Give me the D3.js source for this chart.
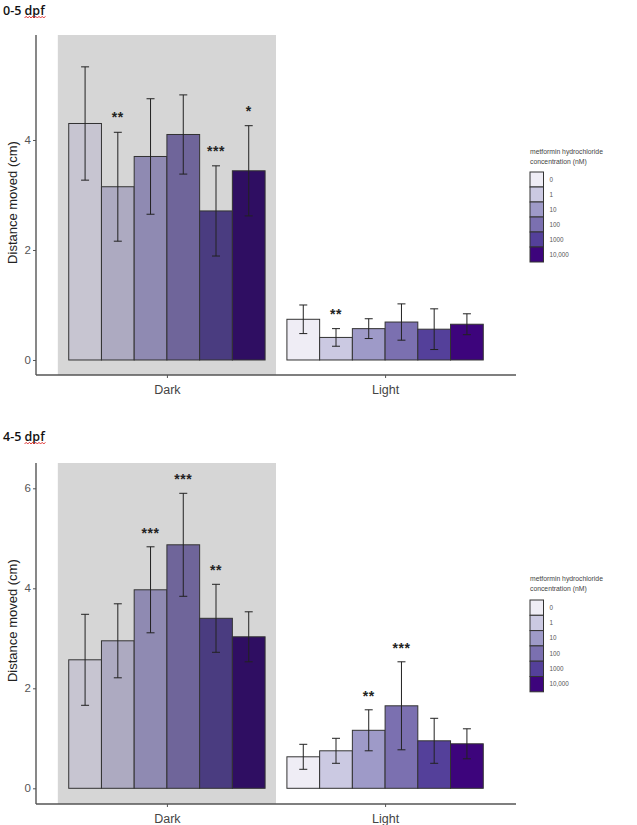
<!DOCTYPE html>
<html>
<head>
<meta charset="utf-8">
<script src="https://cdn.jsdelivr.net/npm/d3@7"></script>
<style>
  html, body { margin: 0; padding: 0; background: #fff; }
  svg { display: block; font-family: "Liberation Sans", Arial, sans-serif; }
</style>
</head>
<body>
<svg id="chart" width="637" height="825"></svg>
<script>
// ---------- data ----------
const conditions = ["Dark", "Light"];
const concentrations = ["0", "1", "10", "100", "1000", "10,000"];
const legendTitle = ["metformin hydrochloride", "concentration (nM)"];

// Panel 1: 0-5 dpf
const p1Title = "0-5 dpf";
const p1DarkMean  = [4.30, 3.15, 3.70, 4.10, 2.71, 3.44];
const p1DarkErr   = [1.03, 0.99, 1.05, 0.72, 0.82, 0.82];
const p1LightMean = [0.74, 0.41, 0.57, 0.69, 0.56, 0.65];
const p1LightErr  = [0.26, 0.16, 0.18, 0.33, 0.37, 0.19];
const p1DarkSig   = ["", "**", "", "", "***", "*"];
const p1LightSig  = ["", "**", "", "", "", ""];
const p1Ticks     = [0, 2, 4];

// Panel 2: 4-5 dpf
const p2Title = "4-5 dpf";
const p2DarkMean  = [2.57, 2.95, 3.97, 4.87, 3.40, 3.03];
const p2DarkErr   = [0.91, 0.74, 0.86, 1.03, 0.68, 0.50];
const p2LightMean = [0.63, 0.75, 1.16, 1.65, 0.95, 0.89];
const p2LightErr  = [0.25, 0.25, 0.41, 0.88, 0.45, 0.30];
const p2DarkSig   = ["", "", "***", "***", "**", ""];
const p2LightSig  = ["", "", "**", "***", "", ""];
const p2Ticks     = [0, 2, 4, 6];

// palettes (light background vs. shaded "Dark" region)
const lightPalette = ["#efedf5", "#cbc9e2", "#9e9ac8", "#7b70b0", "#54409a", "#3d047c"];
const darkPalette  = ["#c7c5d1", "#adaac1", "#8f8ab2", "#6f659a", "#4a3c80", "#2f0e62"];

// ---------- drawing ----------
const svg = d3.select("#chart");

function drawPanel(cfg) {
  const g = svg.append("g");
  const left = 36, right = 516;
  const x = d3.scaleLinear().domain([0.4, 2.6]).range([left, right]);
  const y = d3.scaleLinear().domain(cfg.yDomain).range([cfg.bottom, cfg.top]);

  // title
  const t = g.append("text")
    .attr("x", 3).attr("y", cfg.titleY)
    .attr("font-family", "'Open Sans', 'Liberation Sans', sans-serif")
    .attr("font-size", 12.5).attr("font-weight", 600)
    .attr("fill", "#111")
    .text(cfg.title);
  // red spell-check squiggle under "dpf"
  const node = t.node();
  const full = cfg.title;
  const idx = full.indexOf("dpf");
  const sx = 3 + node.getSubStringLength(0, idx);
  const sw = node.getSubStringLength(idx, 3);
  let d = `M${sx},${cfg.titleY + 3}`;
  for (let k = 0, xx = sx; xx < sx + sw; k++) {
    xx += 1.6;
    d += ` L${xx},${cfg.titleY + (k % 2 === 0 ? 1.3 : 3)}`;
  }
  g.append("path").attr("d", d).attr("fill", "none").attr("stroke", "#d22").attr("stroke-width", 0.9);

  // shaded Dark region
  g.append("rect")
    .attr("x", x(0.5)).attr("y", cfg.top)
    .attr("width", x(1.5) - x(0.5)).attr("height", cfg.bottom - cfg.top)
    .attr("fill", "#d6d6d6");

  const groups = [
    { cond: "Dark",  mean: cfg.darkMean,  err: cfg.darkErr,  sig: cfg.darkSig,  pal: darkPalette },
    { cond: "Light", mean: cfg.lightMean, err: cfg.lightErr, sig: cfg.lightSig, pal: lightPalette }
  ];

  groups.forEach(grp => {
    const ci = conditions.indexOf(grp.cond) + 1;
    const inner = d3.scaleBand().domain(concentrations)
      .range([x(ci - 0.45), x(ci + 0.45)]).padding(0);
    const rows = concentrations.map((c, i) => ({ c, m: grp.mean[i], e: grp.err[i], s: grp.sig[i], col: grp.pal[i] }));

    g.selectAll(null).data(rows).enter().append("rect")
      .attr("x", r => inner(r.c)).attr("width", inner.bandwidth())
      .attr("y", r => y(r.m)).attr("height", r => y(0) - y(r.m))
      .attr("fill", r => r.col)
      .attr("stroke", "#333").attr("stroke-width", 1);

    const cx = r => inner(r.c) + inner.bandwidth() / 2;
    const cap = 4;
    const eb = g.selectAll(null).data(rows).enter().append("g")
      .attr("stroke", "#222").attr("stroke-width", 1);
    eb.append("line").attr("x1", cx).attr("x2", cx)
      .attr("y1", r => y(r.m + r.e)).attr("y2", r => y(r.m - r.e));
    eb.append("line").attr("x1", r => cx(r) - cap).attr("x2", r => cx(r) + cap)
      .attr("y1", r => y(r.m + r.e)).attr("y2", r => y(r.m + r.e));
    eb.append("line").attr("x1", r => cx(r) - cap).attr("x2", r => cx(r) + cap)
      .attr("y1", r => y(r.m - r.e)).attr("y2", r => y(r.m - r.e));

    g.selectAll(null).data(rows.filter(r => r.s)).enter().append("text")
      .attr("x", cx).attr("y", r => y(r.m + r.e) - cfg.sigGap)
      .attr("text-anchor", "middle")
      .attr("font-size", 14).attr("font-weight", "bold").attr("fill", "#222")
      .attr("letter-spacing", 0.5)
      .text(r => r.s);
  });

  // y axis
  const ya = g.append("g").attr("transform", `translate(${left},0)`)
    .call(d3.axisLeft(y).tickValues(cfg.ticks).tickSize(3).tickPadding(2).tickFormat(d3.format("d")));
  ya.select(".domain").attr("stroke", "#555").attr("stroke-width", 1.4)
    .attr("d", `M0,${cfg.top}V${cfg.bottom}`);
  ya.selectAll(".tick line").attr("stroke", "#555");
  ya.selectAll(".tick text").attr("fill", "#555").attr("font-size", 11.5)
    .attr("font-family", "Liberation Sans, Arial, sans-serif");

  // x axis
  const xa = g.append("g").attr("transform", `translate(0,${cfg.bottom})`)
    .call(d3.axisBottom(x).tickValues([1, 2]).tickSize(3).tickPadding(7)
      .tickFormat(v => conditions[v - 1]));
  xa.select(".domain").attr("stroke", "#555").attr("stroke-width", 1.4)
    .attr("d", `M${left},0H${right}`);
  xa.selectAll(".tick line").attr("stroke", "#555");
  xa.selectAll(".tick text").attr("fill", "#444").attr("font-size", 12.5)
    .attr("font-family", "Liberation Sans, Arial, sans-serif");

  // y title
  g.append("text")
    .attr("transform", `translate(17,${(y(0) + cfg.top) / 2 + cfg.yTitleShift}) rotate(-90)`)
    .attr("text-anchor", "middle").attr("font-size", 13).attr("fill", "#222")
    .text("Distance moved (cm)");

  // legend
  const lg = g.append("g").attr("transform", `translate(530,${cfg.legendY})`);
  lg.selectAll(null).data(legendTitle).enter().append("text")
    .attr("x", 0).attr("y", (d, i) => i * 10)
    .attr("font-size", 6.8).attr("fill", "#444").text(d => d);
  const keyH = cfg.keyH, keyW = 13.5, keyTop = cfg.keyTop;
  lg.selectAll(null).data(concentrations).enter().append("rect")
    .attr("x", 0).attr("y", (d, i) => keyTop + i * keyH)
    .attr("width", keyW).attr("height", keyH)
    .attr("fill", (d, i) => lightPalette[i]).attr("stroke", "#333").attr("stroke-width", 1);
  lg.selectAll(null).data(concentrations).enter().append("text")
    .attr("x", keyW + 6).attr("y", (d, i) => keyTop + i * keyH + keyH / 2 + 2.2)
    .attr("font-size", 6.3).attr("fill", "#555").text(d => d);
}

drawPanel({
  title: p1Title, titleY: 15, top: 35, bottom: 375, yDomain: [-0.273, 5.909],
  darkMean: p1DarkMean, darkErr: p1DarkErr, lightMean: p1LightMean, lightErr: p1LightErr,
  darkSig: p1DarkSig, lightSig: p1LightSig, ticks: p1Ticks, sigGap: 10,
  legendY: 154, keyTop: 18, keyH: 15, yTitleShift: 5
});

drawPanel({
  title: p2Title, titleY: 441, top: 463, bottom: 804, yDomain: [-0.314, 6.506],
  darkMean: p2DarkMean, darkErr: p2DarkErr, lightMean: p2LightMean, lightErr: p2LightErr,
  darkSig: p2DarkSig, lightSig: p2LightSig, ticks: p2Ticks, sigGap: 9,
  legendY: 581, keyTop: 19, keyH: 15.3, yTitleShift: -5
});
</script>
</body>
</html>
